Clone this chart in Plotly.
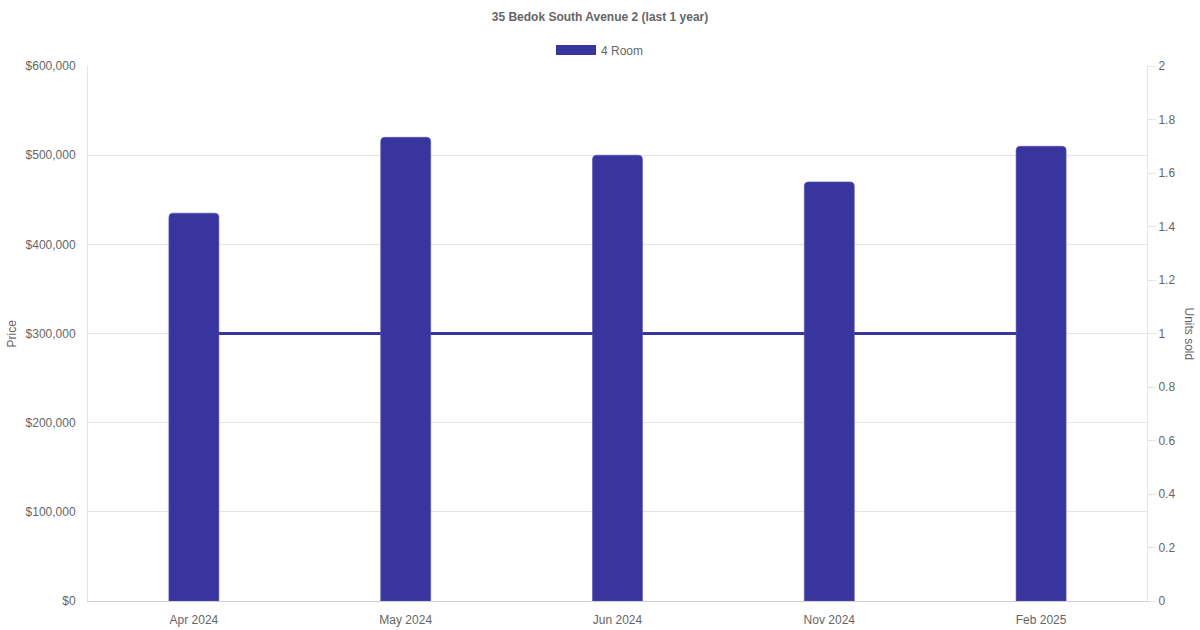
import plotly.graph_objects as go

months = ["Apr 2024", "May 2024", "Jun 2024", "Nov 2024", "Feb 2025"]
prices = [435000, 520000, 500000, 470000, 510000]
units_sold = [1, 1, 1, 1, 1]
series_name = "4 Room"
title_text = "35 Bedok South Avenue 2 (last 1 year)"

BAR = "#38359f"
GRID = "#e5e5e5"
TXT = "#666666"
FONT = "Liberation Sans, Arial, sans-serif"

fig = go.Figure()

# units sold line (main axis, drawn beneath the overlay bars)
fig.add_trace(go.Scatter(
    x=months, y=units_sold, mode="lines", yaxis="y", xaxis="x",
    line=dict(color=BAR, width=3), showlegend=False, hoverinfo="skip",
    name="Units sold",
))

# price bars (overlay axis, left side)
fig.add_trace(go.Bar(
    x=months, y=prices, yaxis="y2", xaxis="x",
    marker=dict(color=BAR, line=dict(color="#5553b8", width=0.6), cornerradius=4),
    width=0.236, showlegend=False, legendgroup="g", name=series_name,
))

# legend entry (wide rectangular swatch)
fig.add_trace(go.Scatter(
    x=[None], y=[None], mode="lines", yaxis="y2",
    line=dict(color=BAR, width=12), name=series_name, legendgroup="g",
))

fig.update_layout(
    width=1200, height=630,
    margin=dict(l=88, r=53, t=66, b=29, autoexpand=False),
    paper_bgcolor="white", plot_bgcolor="white",
    font=dict(family=FONT, size=12, color=TXT),
    title=dict(text="<b>" + title_text + "</b>", x=0.5, xanchor="center",
               xref="container", y=1 - 17 / 630, yanchor="middle", yref="container",
               font=dict(family=FONT, size=12, color=TXT)),
    legend=dict(orientation="h", x=0.5, xanchor="center", xref="container",
                y=1 - 50 / 630, yanchor="middle", yref="container",
                itemwidth=40, font=dict(size=12, color=TXT),
                bgcolor="rgba(0,0,0,0)"),
    xaxis=dict(type="category", showgrid=False, showline=True, linecolor="#d0d0d0",
               linewidth=1, ticks="", tickfont=dict(size=12, color=TXT),
               ticklabelstandoff=8,
               zeroline=False, fixedrange=True, automargin=False),
    yaxis=dict(side="right", range=[0, 2], dtick=0.2, showgrid=False,
               showline=True, linecolor=GRID, ticks="outside", ticklen=8,
               tickcolor=GRID, tickfont=dict(size=12, color=TXT), zeroline=False,
               automargin=False),
    yaxis2=dict(side="left", overlaying="y", range=[0, 600000], dtick=100000,
                tickprefix="$", tickformat=",", showgrid=True, gridcolor=GRID,
                showline=True, linecolor=GRID, ticks="", ticklabelstandoff=9,
                tickfont=dict(size=12, color=TXT), zeroline=False, automargin=False),
    annotations=[
        dict(text="Price", xref="paper", yref="paper", x=-77 / 1059, y=0.5,
             xanchor="center", yanchor="middle", textangle=-90, showarrow=False,
             font=dict(size=12, color=TXT)),
        dict(text="Units sold", xref="paper", yref="paper", x=1 + 42 / 1059, y=0.5,
             xanchor="center", yanchor="middle", textangle=90, showarrow=False,
             font=dict(size=12, color=TXT)),
    ],
)

fig.write_html("out.html", config={"displayModeBar": False},
               post_script="document.body.style.margin='0';")
